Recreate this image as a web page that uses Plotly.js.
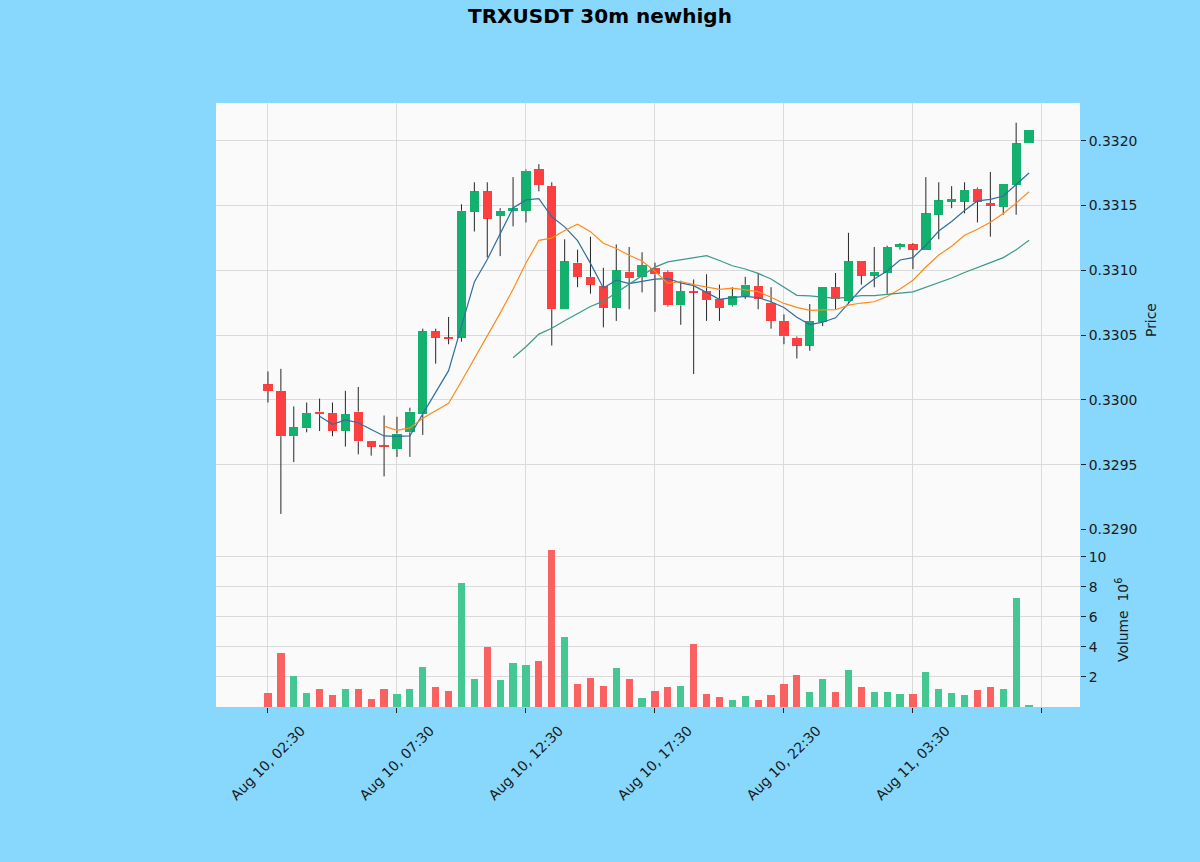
<!DOCTYPE html>
<html>
<head>
<meta charset="utf-8">
<script src="https://cdn.plot.ly/plotly-3.0.1.min.js"></script>
<style>html,body{margin:0;padding:0;background:#87d8fc;}#chart{width:1200px;height:862px;}</style>
</head>
<body>
<div id="chart"></div>
<script>
const tickLabels = ['Aug 10, 02:30','Aug 10, 07:30','Aug 10, 12:30','Aug 10, 17:30','Aug 10, 22:30','Aug 11, 03:30',''];
const tickIdx = [0,10,20,30,40,50,60];

const opens = [0.33012,0.33007,0.32972,0.32978,0.32991,0.32990,0.32976,0.32991,0.32968,0.32965,
0.32962,0.32975,0.32989,0.33053,0.33048,0.33048,0.33145,0.33161,0.33142,0.33146,
0.33146,0.33178,0.33165,0.33070,0.33106,0.33095,0.33088,0.33071,0.33099,0.33095,
0.33102,0.33099,0.33073,0.33084,0.33084,0.33078,0.33073,0.33080,0.33088,0.33075,
0.33061,0.33048,0.33042,0.33060,0.33087,0.33076,0.33107,0.33096,0.33098,0.33118,
0.33120,0.33116,0.33143,0.33153,0.33153,0.33163,0.33152,0.33149,0.33166,0.33198];

const highs = [0.33022,0.33024,0.32995,0.32998,0.33001,0.32998,0.33007,0.33010,0.32968,0.32988,
0.32987,0.32994,0.33055,0.33055,0.33064,0.33151,0.33168,0.33168,0.33148,0.33172,
0.33178,0.33182,0.33168,0.33124,0.33116,0.33126,0.33102,0.33120,0.33118,0.33114,
0.33106,0.33100,0.33092,0.33093,0.33097,0.33089,0.33087,0.33095,0.33098,0.33087,
0.33066,0.33049,0.33074,0.33087,0.33098,0.33129,0.33107,0.33118,0.33119,0.33121,
0.33121,0.33172,0.33168,0.33165,0.33168,0.33164,0.33176,0.33167,0.33214,0.33208];

const lows = [0.32998,0.32912,0.32952,0.32975,0.32976,0.32972,0.32964,0.32958,0.32957,0.32941,
0.32956,0.32956,0.32973,0.33028,0.33043,0.33045,0.33130,0.33110,0.33111,0.33134,
0.33137,0.33161,0.33042,0.33070,0.33087,0.33082,0.33056,0.33061,0.33070,0.33083,
0.33068,0.33072,0.33058,0.33020,0.33061,0.33061,0.33072,0.33078,0.33070,0.33055,
0.33043,0.33032,0.33038,0.33057,0.33070,0.33074,0.33089,0.33087,0.33082,0.33116,
0.33101,0.33116,0.33124,0.33148,0.33144,0.33137,0.33126,0.33143,0.33143,0.33198];

const closes = [0.33007,0.32972,0.32979,0.32990,0.32989,0.32976,0.32989,0.32968,0.32964,0.32964,
0.32974,0.32991,0.33053,0.33048,0.33047,0.33146,0.33161,0.33140,0.33146,0.33148,
0.33177,0.33166,0.33070,0.33107,0.33095,0.33089,0.33071,0.33100,0.33094,0.33104,
0.33097,0.33073,0.33084,0.33083,0.33077,0.33071,0.33080,0.33089,0.33078,0.33061,
0.33049,0.33042,0.33061,0.33087,0.33078,0.33107,0.33096,0.33099,0.33118,0.33120,
0.33116,0.33144,0.33154,0.33155,0.33162,0.33153,0.33150,0.33167,0.33198,0.33208];

// volume in units of 10^6
const volumes = [0.89,3.60,2.07,0.89,1.16,0.78,1.16,1.16,0.49,1.16,
0.82,1.16,2.67,1.29,1.05,8.27,1.82,3.96,1.78,2.89,
2.78,3.07,10.45,4.62,1.49,1.89,1.38,2.56,1.82,0.56,
1.05,1.33,1.38,4.18,0.85,0.62,0.45,0.71,0.45,0.78,
1.51,2.11,0.96,1.85,1.00,2.45,1.33,1.00,0.96,0.82,
0.85,2.29,1.18,0.89,0.76,1.11,1.33,1.16,7.22,0.10];

const maPeriods = [5,10,20];
const maColors = ['#2f6f9f','#ff8a1c','#3a9a8a'];

const UP = '#14b06e', DOWN = '#fd3f3f';
const UPV = '#45c794', DOWNV = '#fa6262';

const n = closes.length;
const idx = closes.map((_, i) => i);
const isUp = idx.map(i => closes[i] >= opens[i]);

// wicks (upper and lower segments so the body covers nothing)
const wx = [], wy = [];
for (let i = 0; i < n; i++) {
  const top = Math.max(opens[i], closes[i]), bot = Math.min(opens[i], closes[i]);
  wx.push(i, i, null, i, i, null);
  wy.push(highs[i], top, null, bot, lows[i], null);
}
const minBody = 0.000015;
const bodyBase = idx.map(i => {
  const top = Math.max(opens[i], closes[i]), bot = Math.min(opens[i], closes[i]);
  const h = top - bot;
  return h < minBody ? (top + bot) / 2 - minBody / 2 : bot;
});
const bodyH = idx.map(i => Math.max(Math.abs(closes[i] - opens[i]), minBody));

function sma(arr, p) {
  const out = [];
  for (let i = 0; i < arr.length; i++) {
    if (i < p - 1) { out.push(null); continue; }
    let s = 0;
    for (let k = i - p + 1; k <= i; k++) s += arr[k];
    out.push(s / p);
  }
  return out;
}

const traces = [];
traces.push({
  type: 'bar', x: idx, y: bodyH, base: bodyBase, width: 0.72,
  marker: {color: idx.map(i => isUp[i] ? UP : DOWN), line: {width: 0}},
  xaxis: 'x', yaxis: 'y', showlegend: false, hoverinfo: 'skip'
});
traces.push({
  type: 'scatter', mode: 'lines', x: wx, y: wy,
  line: {color: '#262626', width: 1}, xaxis: 'x', yaxis: 'y',
  showlegend: false, hoverinfo: 'skip', connectgaps: false
});
maPeriods.forEach((p, k) => {
  traces.push({
    type: 'scatter', mode: 'lines', x: idx, y: sma(closes, p),
    line: {color: maColors[k], width: 1.2}, xaxis: 'x', yaxis: 'y',
    showlegend: false, hoverinfo: 'skip'
  });
});
traces.push({
  type: 'bar', x: idx, y: volumes, width: 0.56,
  marker: {color: idx.map(i => isUp[i] ? UPV : DOWNV), line: {width: 0}},
  xaxis: 'x2', yaxis: 'y2', showlegend: false, hoverinfo: 'skip'
});

const W = 1200, H = 862;
const xDom = [216 / W, 1080 / W];
const pyDom = [(H - 530) / H, (H - 103) / H];
const vyDom = [(H - 707) / H, (H - 530) / H];
const tickFont = {family: 'DejaVu Sans', size: 13.9, color: '#1a1a1a'};
const gridC = '#dadada';

const layout = {
  width: W, height: H,
  paper_bgcolor: '#87d8fc', plot_bgcolor: '#fafafa',
  margin: {l: 0, r: 0, t: 0, b: 0},
  barmode: 'overlay', bargap: 0,
  showlegend: false,
  title: {text: '<b>TRXUSDT 30m newhigh</b>', x: 0.5, xanchor: 'center', y: 1 - 16 / H, yanchor: 'middle',
          font: {family: 'DejaVu Sans', size: 20, color: '#000'}},
  xaxis: {domain: xDom, anchor: 'y', range: [-4.03, 62.95], tickvals: tickIdx, ticktext: tickLabels,
          showticklabels: false, ticks: '', showgrid: true, gridcolor: gridC, gridwidth: 1,
          zeroline: false, showline: false, fixedrange: true},
  xaxis2: {domain: xDom, anchor: 'y2', matches: 'x', range: [-4.03, 62.95], tickvals: tickIdx, ticktext: tickLabels,
           tickangle: -45, ticks: 'outside', ticklen: 5, tickcolor: '#222', tickwidth: 1,
           ticklabelshift: 33, ticklabelstandoff: 4,
           tickfont: tickFont, showgrid: true, gridcolor: gridC, gridwidth: 1,
           zeroline: false, showline: false},
  yaxis: {domain: pyDom, anchor: 'x', side: 'right', range: [0.328996, 0.332292],
          tickvals: [0.3290, 0.3295, 0.3300, 0.3305, 0.3310, 0.3315, 0.3320],
          tickformat: '.4f', ticks: 'outside', ticklen: 5, tickcolor: '#222', tickwidth: 1,
          tickfont: tickFont, showgrid: true, gridcolor: gridC, gridwidth: 1,
          zeroline: false, showline: false},
  yaxis2: {domain: vyDom, anchor: 'x2', side: 'right', range: [-0.02, 11.78],
           tickvals: [2, 4, 6, 8, 10], ticks: 'outside', ticklen: 5, tickcolor: '#222', tickwidth: 1,
           tickfont: tickFont, showgrid: true, gridcolor: gridC, gridwidth: 1,
           zeroline: false, showline: false},
  annotations: [
    {text: 'Price', xref: 'paper', yref: 'paper', x: 1151 / W, y: (H - 320) / H,
     xanchor: 'center', yanchor: 'middle', textangle: -90, showarrow: false,
     font: {family: 'DejaVu Sans', size: 13.9, color: '#1a1a1a'}},
    {text: 'Volume  10<sup>6</sup>', xref: 'paper', yref: 'paper', x: 1122 / W, y: (H - 620) / H,
     xanchor: 'center', yanchor: 'middle', textangle: -90, showarrow: false,
     font: {family: 'DejaVu Sans', size: 13.9, color: '#1a1a1a'}}
  ]
};

Plotly.newPlot('chart', traces, layout, {displayModeBar: false, staticPlot: true});
</script>
</body>
</html>
